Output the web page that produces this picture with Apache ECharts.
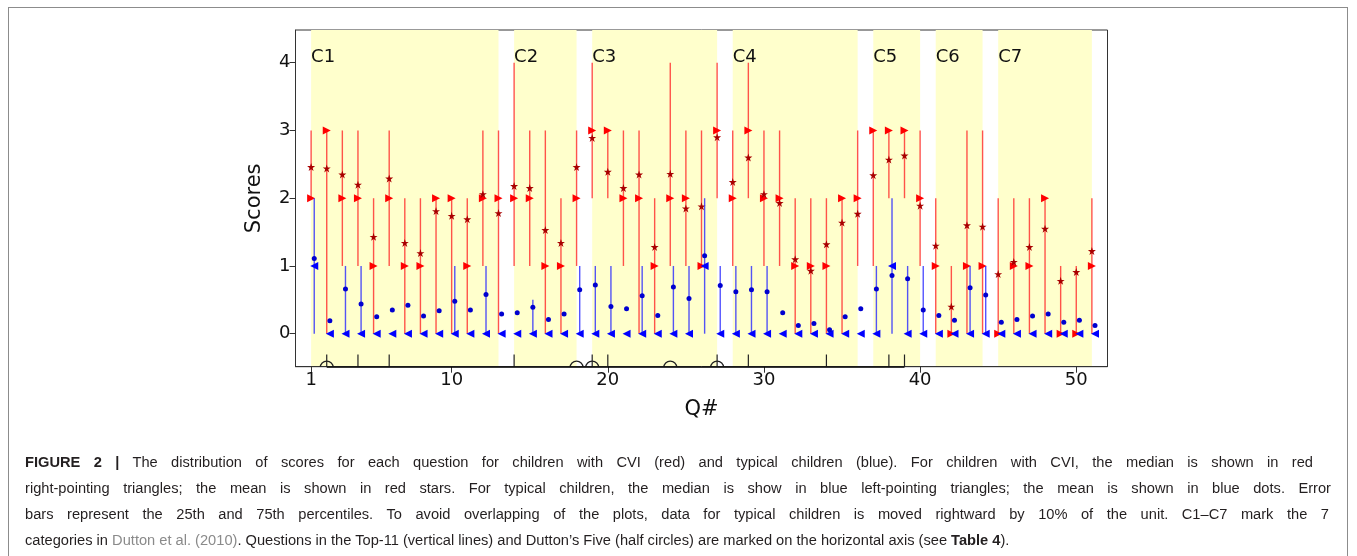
<!DOCTYPE html>
<html>
<head>
<meta charset="utf-8">
<script src="https://cdn.jsdelivr.net/npm/echarts@6/dist/echarts.min.js"></script>
<style>
html,body{margin:0;padding:0;background:#fff;}
#wrap{position:relative;width:1357px;height:556px;overflow:hidden;background:#fff;}
#frame{position:absolute;left:8px;top:7px;width:1340px;height:600px;border:1px solid #8c8c8c;box-sizing:border-box;}
#chart{position:absolute;left:0;top:0;width:1357px;height:556px;}
.cap{position:absolute;left:25px;white-space:nowrap;font-family:"Liberation Sans",Arial,sans-serif;font-size:14.65px;line-height:26px;color:#231f20;}
.cap b{font-weight:bold;}
.cap .gr{color:#8a8a8a;}
</style>
</head>
<body>
<div id="wrap">
  <div id="frame"></div>
  <div id="chart"></div>
  <div class="cap" id="l1" style="top:449px"><b>FIGURE 2 |</b> The distribution of scores for each question for children with CVI (red) and typical children (blue). For children with CVI, the median is shown in red</div>
  <div class="cap" id="l2" style="top:475px">right-pointing triangles; the mean is shown in red stars. For typical children, the median is show in blue left-pointing triangles; the mean is shown in blue dots. Error</div>
  <div class="cap" id="l3" style="top:501px">bars represent the 25th and 75th percentiles. To avoid overlapping of the plots, data for typical children is moved rightward by 10% of the unit. C1–C7 mark the 7</div>
  <div class="cap" id="l4" style="top:527px">categories in <span class="gr">Dutton et al. (2010)</span>. Questions in the Top-11 (vertical lines) and Dutton’s Five (half circles) are marked on the horizontal axis (see <b>Table 4</b>).</div>
</div>
<script>
// ---------------- data ----------------
const questions = [1,2,3,4,5,6,7,8,9,10,11,12,13,14,15,16,17,18,19,20,21,22,23,24,25,26,27,28,29,30,31,32,33,34,35,36,37,38,39,40,41,42,43,44,45,46,47,48,49,50,51];

// children with CVI (red)
const cviP25    = [2,0,1,1,0,1,0,0,0,0,0,1,0, 1,1,0,0,1, 2,2,1,0,0,1,1,1,2, 1,2,1,1,0,0,0,0,1, 1,2,2,1, 0,0,0,0, 0,0,0,0,0,0,0];
const cviP75    = [3,3,3,3,2,3,2,2,2,2,2,3,3, 4,3,3,2,3, 4,3,3,3,2,4,3,3,4, 3,4,3,3,2,2,2,2,3, 3,3,3,3, 2,1,3,3, 2,2,2,2,1,1,2];
const cviMedian = [2,3,2,2,1,2,1,1,2,2,1,2,2, 2,2,1,1,2, 3,3,2,2,1,2,2,1,3, 2,3,2,2,1,1,1,2,2, 3,3,3,2, 1,0,1,1, 0,1,1,2,0,0,1];
const cviMean   = [2.46,2.44,2.35,2.20,1.43,2.29,1.34,1.19,1.81,1.74,1.69,2.06,1.78,
                   2.18,2.15,1.53,1.34,2.46,
                   2.89,2.39,2.15,2.35,1.28,2.36,1.85,1.88,2.90,
                   2.24,2.60,2.06,1.93,1.10,0.93,1.32,1.64,1.77,
                   2.34,2.57,2.63,1.89,
                   1.30,0.40,1.60,1.58,
                   0.88,1.06,1.28,1.55,0.78,0.91,1.22];

// typical children (blue)
const typP25    = [0,0,0,0,0,0,0,0,0,0,0,0,0, 0,0,0,0,0, 0,0,0,0,0,0,0,0,0, 0,0,0,0,0,0,0,0,0, 0,0,0,0, 0,0,0,0, 0,0,0,0,0,0,0];
const typP75    = [2,0,1,1,0,0,0,0,0,1,0,1,0, 0,0.5,0,0,1, 1,1,0,1,0,1,1,2,1, 1,1,1,0,0,0,0,0,0, 1,2,1,1, 0,0,1,1, 0,0,0,0,0,0,0];
const typMedian = [1,0,0,0,0,0,0,0,0,0,0,0,0, 0,0,0,0,0, 0,0,0,0,0,0,0,1,0, 0,0,0,0,0,0,0,0,0, 0,1,0,0, 0,0,0,0, 0,0,0,0,0,0,0];
const typMean   = [1.11,0.19,0.66,0.44,0.25,0.35,0.42,0.26,0.34,0.48,0.35,0.58,0.29,
                   0.31,0.39,0.21,0.29,0.65,
                   0.72,0.40,0.37,0.56,0.27,0.69,0.52,1.15,0.71,
                   0.62,0.65,0.62,0.31,0.12,0.15,0.06,0.25,0.37,
                   0.66,0.86,0.81,0.35,
                   0.27,0.20,0.68,0.57,
                   0.17,0.21,0.26,0.29,0.17,0.20,0.12];
const typOffset = 0.2;

// categories (Dutton et al. 2010)
const bandLabels = ['C1','C2','C3','C4','C5','C6','C7'];
const bandStart  = [1,14,19,28,37,41,45];
const bandEnd    = [13,18,27,36,40,44,51];

// markers on the horizontal axis
const top11      = [2,4,6,14,19,20,27,29,34,38,39];
const duttonFive = [2,18,19,24,27];

// ticks
const xTicks = [1,10,20,30,40,50];
const yTicks = [0,1,2,3,4];

// ---------------- chart ----------------
const FONT = '"DejaVu Sans", sans-serif';
const rightTri = 'path://M0,0 L10,5 L0,10 Z';
const leftTri  = 'path://M10,0 L0,5 L10,10 Z';
const starPath = 'path://M50,0 L61.8,35.5 L99,35.5 L69,57.5 L80.5,93 L50,71 L19.5,93 L31,57.5 L1,35.5 L38.2,35.5 Z';
const AXIS_BOTTOM = -0.5;

function errRender(color, offset) {
  return function (params, api) {
    const x = api.value(0) + offset;
    const lo = api.value(1), hi = api.value(2);
    if (hi <= lo) return { type: 'group', children: [] };
    const a = api.coord([x, lo]), b = api.coord([x, hi]);
    return { type: 'line', shape: { x1: a[0], y1: a[1], x2: b[0], y2: b[1] },
             style: { stroke: color, lineWidth: 1.4 } };
  };
}

const chart = echarts.init(document.getElementById('chart'), null, { renderer: 'canvas' });

const option = {
  animation: false,
  backgroundColor: 'transparent',
  grid: { left: 295.5, top: 30, width: 812, height: 336.7, show: true,
          borderColor: '#333', borderWidth: 1, backgroundColor: 'transparent' },
  xAxis: {
    type: 'value', min: 0, max: 52,
    axisLine: { show: true, onZero: false, lineStyle: { color: '#333', width: 1 } },
    axisTick: { show: true, customValues: xTicks, length: 6, lineStyle: { color: '#333' } },
    axisLabel: { customValues: xTicks, fontSize: 18, fontFamily: FONT, color: '#111', margin: 5 },
    splitLine: { show: false },
    name: 'Q#', nameLocation: 'middle', nameGap: 32,
    nameTextStyle: { fontSize: 21, fontFamily: FONT, color: '#111' }
  },
  yAxis: {
    type: 'value', min: -0.487, max: 4.483,
    axisLine: { show: true, onZero: false, lineStyle: { color: '#333', width: 1 } },
    axisTick: { show: true, customValues: yTicks, length: 6, lineStyle: { color: '#333' } },
    axisLabel: { customValues: yTicks, fontSize: 18, fontFamily: FONT, color: '#111', margin: 5 },
    splitLine: { show: false },
    name: 'Scores', nameLocation: 'middle', nameGap: 30, nameRotate: 90,
    nameTextStyle: { fontSize: 21, fontFamily: FONT, color: '#111' }
  },
  series: [
    { // category bands + labels
      type: 'custom', z: 0, silent: true,
      data: bandStart.map((s, i) => [s, bandEnd[i], i]),
      renderItem: function (params, api) {
        const cs = params.coordSys;
        const x0 = api.coord([api.value(0), 0])[0];
        const x1 = api.coord([api.value(1), 0])[0];
        const p = api.coord([api.value(0), 4]);
        return { type: 'group', children: [
          { type: 'rect', shape: { x: x0, y: cs.y, width: x1 - x0, height: cs.height },
            style: { fill: '#ffffcc' } },
          { type: 'text', z2: 5, style: { text: bandLabels[api.value(2)], x: p[0], y: p[1] + 4,
            font: '18px ' + FONT, fill: '#111', align: 'left', verticalAlign: 'bottom' } }
        ]};
      }
    },
    { // red error bars
      type: 'custom', z: 2, silent: true,
      data: questions.map((q, i) => [q, cviP25[i], cviP75[i]]),
      renderItem: errRender('rgba(255,40,40,0.8)', 0)
    },
    { // red medians
      type: 'scatter', z: 3, symbol: rightTri, symbolSize: [8, 8],
      itemStyle: { color: '#ff0000', opacity: 1 },
      data: questions.map((q, i) => [q, cviMedian[i]])
    },
    { // red means
      type: 'scatter', z: 4, symbol: starPath, symbolSize: 8,
      itemStyle: { color: '#a80000', opacity: 1 },
      data: questions.map((q, i) => [q, cviMean[i]])
    },
    { // blue error bars
      type: 'custom', z: 5, silent: true,
      data: questions.map((q, i) => [q, typP25[i], typP75[i]]),
      renderItem: errRender('rgba(40,40,255,0.8)', typOffset)
    },
    { // blue medians
      type: 'scatter', z: 6, symbol: leftTri, symbolSize: [8, 8],
      itemStyle: { color: '#0000ff', opacity: 1 },
      data: questions.map((q, i) => [q + typOffset, typMedian[i]])
    },
    { // blue means
      type: 'scatter', z: 7, symbol: 'circle', symbolSize: 5,
      itemStyle: { color: '#0000d0', opacity: 1 },
      data: questions.map((q, i) => [q + typOffset, typMean[i]])
    },
    { // Top-11 connecting line on the axis
      type: 'line', z: 8, silent: true, symbol: 'none', clip: true,
      lineStyle: { color: '#000', width: 2 },
      data: [[top11[0], AXIS_BOTTOM], [top11[top11.length - 1], AXIS_BOTTOM]]
    },
    { // Top-11 vertical lines
      type: 'custom', z: 8, silent: true, clip: true,
      data: top11.map(q => [q]),
      renderItem: function (params, api) {
        const p = api.coord([api.value(0), AXIS_BOTTOM]);
        return { type: 'line', shape: { x1: p[0], y1: p[1], x2: p[0], y2: p[1] - 13 },
                 style: { stroke: '#222', lineWidth: 1.2 } };
      }
    },
    { // Dutton's Five half circles
      type: 'custom', z: 8, silent: true, clip: true,
      data: duttonFive.map(q => [q]),
      renderItem: function (params, api) {
        const p = api.coord([api.value(0), AXIS_BOTTOM]);
        return { type: 'circle', shape: { cx: p[0], cy: p[1], r: 6.5 },
                 style: { fill: 'none', stroke: '#222', lineWidth: 1.2 } };
      }
    }
  ]
};
chart.setOption(option);

// fit caption lines to the widths in the figure (stretch word gaps, as in justified text)
const capTargets = { l1: 1288, l2: 1306, l3: 1304 };
for (const id in capTargets) {
  const el = document.getElementById(id);
  const w = el.getBoundingClientRect().width;
  const nSpaces = (el.textContent.match(/ /g) || []).length;
  el.style.wordSpacing = ((capTargets[id] - w) / nSpaces) + 'px';
}
</script>
</body>
</html>
